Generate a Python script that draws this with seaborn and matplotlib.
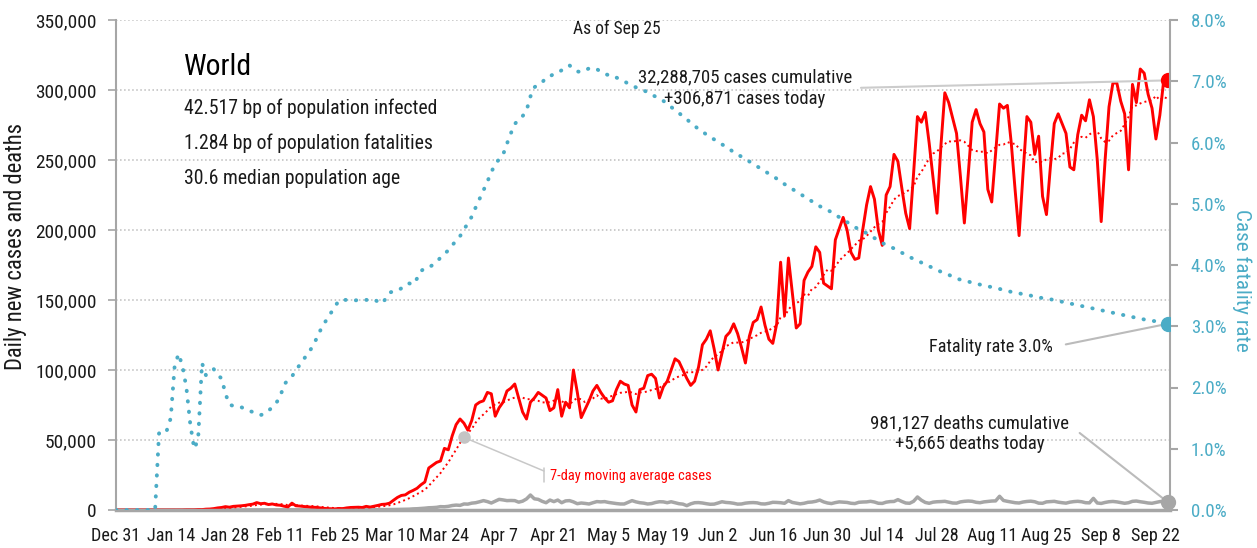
import matplotlib
matplotlib.use('Agg')
import matplotlib.pyplot as plt
from matplotlib import font_manager
import seaborn as sns
import numpy as np
import pandas as pd

# daily new cases (thousands), Dec 31 .. Sep 25
cases_k = [
    0, 0, 0, 0, 0, 0, 0, 0, 0, 0,
    0, 0, 0, 0, 0, 0, 0, 0, 0.1, 0.1,
    0.1, 0.3, 0.3, 0.6, 0.7, 1.0, 1.5, 1.8, 2.4, 2.0,
    2.6, 2.8, 3.0, 3.3, 3.8, 4.2, 5.3, 4.5, 4.8, 3.9,
    4.3, 3.6, 3.4, 2.7, 2.2, 4.9, 3.0, 2.8, 2.5, 2.3,
    2.0, 1.9, 1.6, 1.2, 1.0, 0.9, 0.8, 1.1, 1.0, 1.5,
    1.8, 1.9, 2.0, 1.8, 2.6, 2.1, 2.7, 3.3, 4.0, 4.2,
    4.9, 7.0, 9.0, 10.4, 10.8, 12.7, 14.0, 15.5, 18.0, 20.0,
    30, 32, 34, 35, 44, 43, 53, 61, 65, 62,
    57, 64, 75, 77, 78, 84, 83, 67, 73, 77,
    85, 87, 90, 80, 70, 65, 77, 80, 84, 82,
    80, 71, 73, 86, 67, 77, 73, 100, 84, 66,
    72, 78, 85, 89, 84, 80, 77, 78, 86, 92,
    90, 89, 75, 70, 86, 87, 96, 97, 94, 80,
    88, 92, 100, 108, 106, 100, 94, 89, 92, 102,
    118, 122, 128, 115, 100, 112, 124, 127, 133, 126,
    116, 105, 124, 134, 136, 145, 132, 122, 119, 133,
    177, 139, 180, 155, 130, 133, 164, 170, 174, 188,
    184, 162, 160, 158, 193, 201, 209, 200, 184, 179,
    180, 200, 218, 231, 222, 200, 189, 225, 231, 254,
    249, 230, 212, 201, 240, 281, 277, 284, 262, 237,
    212, 260, 298, 291, 280, 269, 238, 205, 240, 277,
    286, 276, 270, 229, 220, 255, 290, 287, 289, 262,
    228, 196, 240, 281, 277, 254, 267, 224, 211, 245,
    276, 283, 276, 269, 245, 243, 268, 282, 278, 293,
    281, 250, 206, 250, 288, 305, 305, 292, 283, 243,
    304, 291, 315, 312, 297, 287, 265, 282, 307, 306.871,
]

# daily deaths (thousands)
deaths_k = [
    0, 0, 0, 0, 0, 0, 0, 0, 0, 0,
    0, 0, 0, 0, 0, 0, 0, 0, 0, 0,
    0.01, 0.01, 0.01, 0.02, 0.02, 0.02, 0.02, 0.03, 0.03, 0.03,
    0.04, 0.04, 0.05, 0.06, 0.06, 0.07, 0.07, 0.08, 0.09, 0.09,
    0.1, 0.1, 0.1, 0.1, 0.15, 0.14, 0.14, 0.15, 0.1, 0.1,
    0.1, 0.1, 0.1, 0.1, 0.1, 0.08, 0.07, 0.06, 0.06, 0.07,
    0.08, 0.1, 0.1, 0.1, 0.1, 0.15, 0.2, 0.2, 0.25, 0.3,
    0.3, 0.35, 0.4, 0.4, 0.5, 0.6, 0.8, 0.9, 1.1, 1.3,
    1.6, 1.7, 1.9, 2.4, 2.3, 2.6, 3.2, 3.5, 3.3, 4.3,
    4.2, 4.9, 5.2, 5.9, 6.7, 6.0, 5.0, 6.3, 7.6, 7.2,
    6.7, 6.8, 6.7, 5.6, 6.3, 7.9, 10.7, 8.0, 7.6, 6.2,
    5.2, 7.1, 6.0, 7.1, 5.2, 6.5, 6.7, 5.8, 4.5, 5.0,
    4.7, 4.3, 5.2, 6.0, 5.8, 6.0, 5.4, 5.0, 4.6, 4.3,
    4.3, 5.5, 6.7, 5.8, 5.2, 4.9, 4.3, 4.6, 5.4, 5.9,
    5.8, 5.2, 5.9, 5.2, 4.5, 4.2, 3.1, 4.4, 5.2, 5.3,
    5.0, 4.5, 4.1, 4.2, 5.0, 5.9, 5.4, 5.2, 4.8, 4.2,
    4.3, 4.9, 5.2, 5.3, 5.1, 4.4, 4.3, 4.8, 5.5, 5.4,
    5.2, 4.8, 6.7, 5.4, 4.9, 4.4, 4.8, 5.5, 5.7, 6.2,
    7.1, 5.8, 5.0, 4.6, 5.3, 5.8, 5.6, 5.4, 4.8, 4.6,
    5.5, 5.7, 5.8, 6.2, 5.7, 4.8, 4.7, 5.6, 6.0, 6.1,
    7.4, 6.1, 5.0, 4.8, 6.2, 9.3, 7.0, 5.4, 4.8, 5.6,
    5.9, 6.0, 6.2, 5.6, 5.0, 4.9, 5.8, 6.2, 6.4, 6.2,
    5.5, 5.2, 5.8, 6.1, 6.4, 6.5, 9.8, 6.8, 6.2, 5.7,
    5.2, 5.0, 5.7, 6.1, 6.3, 5.9, 4.9, 4.8, 5.8, 6.0,
    6.2, 5.6, 5.2, 4.9, 5.6, 6.0, 6.2, 5.9, 5.2, 5.1,
    8.3, 5.0, 4.7, 5.4, 5.9, 6.1, 5.8, 5.3, 4.8, 5.2,
    6.2, 6.4, 5.9, 5.5, 5.0, 4.8, 5.4, 6.0, 6.2, 5.665,
]

# case fatality rate (%)
cfr_pct = [
    0, 0, 0, 0, 0, 0, 0, 0, 0, 0,
    0, 1.25, 1.32, 1.30, 1.50, 2.35, 2.55, 2.35, 2.00, 1.40,
    1.00, 1.15, 2.40, 2.20, 2.25, 2.30, 2.20, 2.15, 1.90, 1.72,
    1.70, 1.70, 1.68, 1.65, 1.62, 1.60, 1.58, 1.55, 1.57, 1.62,
    1.68, 1.75, 1.85, 2.05, 2.12, 2.18, 2.28, 2.37, 2.46, 2.55,
    2.64, 2.76, 2.90, 3.02, 3.12, 3.22, 3.32, 3.42, 3.43, 3.43,
    3.43, 3.42, 3.43, 3.43, 3.43, 3.43, 3.44, 3.40, 3.37, 3.45,
    3.55, 3.57, 3.58, 3.62, 3.68, 3.70, 3.68, 3.78, 3.90, 3.95,
    3.96, 4.00, 4.05, 4.12, 4.18, 4.24, 4.32, 4.40, 4.47, 4.58,
    4.68, 4.79, 4.94, 5.08, 5.22, 5.36, 5.52, 5.64, 5.73, 5.80,
    5.98, 6.15, 6.30, 6.38, 6.43, 6.52, 6.75, 6.90, 6.95, 6.98,
    7.06, 7.08, 7.12, 7.14, 7.18, 7.23, 7.26, 7.20, 7.16, 7.15,
    7.18, 7.21, 7.22, 7.20, 7.15, 7.12, 7.10, 7.10, 7.06, 7.03,
    7.00, 6.96, 6.93, 6.90, 6.88, 6.85, 6.82, 6.78, 6.75, 6.72,
    6.68, 6.63, 6.58, 6.53, 6.48, 6.43, 6.38, 6.32, 6.27, 6.22,
    6.18, 6.13, 6.09, 6.05, 6.01, 5.97, 5.93, 5.89, 5.84, 5.80,
    5.77, 5.73, 5.69, 5.65, 5.61, 5.57, 5.53, 5.49, 5.45, 5.41,
    5.36, 5.32, 5.28, 5.24, 5.20, 5.16, 5.12, 5.08, 5.04, 5.00,
    4.96, 4.93, 4.90, 4.86, 4.82, 4.78, 4.74, 4.70, 4.66, 4.62,
    4.58, 4.55, 4.52, 4.48, 4.44, 4.40, 4.36, 4.33, 4.30, 4.27,
    4.24, 4.20, 4.17, 4.13, 4.10, 4.07, 4.04, 4.01, 3.98, 3.95,
    3.92, 3.89, 3.87, 3.84, 3.81, 3.78, 3.76, 3.74, 3.73, 3.71,
    3.70, 3.68, 3.67, 3.65, 3.64, 3.62, 3.61, 3.59, 3.58, 3.56,
    3.55, 3.54, 3.52, 3.51, 3.50, 3.48, 3.47, 3.46, 3.45, 3.44,
    3.43, 3.41, 3.40, 3.38, 3.37, 3.36, 3.34, 3.33, 3.32, 3.30,
    3.29, 3.28, 3.26, 3.25, 3.23, 3.22, 3.21, 3.19, 3.18, 3.17,
    3.15, 3.14, 3.13, 3.11, 3.10, 3.09, 3.08, 3.06, 3.05, 3.04,
]

tick_labels = ['Dec 31', 'Jan 14', 'Jan 28', 'Feb 11', 'Feb 25', 'Mar 10',
               'Mar 24', 'Apr 7', 'Apr 21', 'May 5', 'May 19', 'Jun 2',
               'Jun 16', 'Jun 30', 'Jul 14', 'Jul 28', 'Aug 11', 'Aug 25',
               'Sep 8', 'Sep 22']

info_lines = ['42.517 bp of population infected',
              '1.284 bp of population fatalities',
              '30.6 median population age']

RED = '#ff0000'
TEAL = '#4bacc6'
GREY = '#a6a6a6'
TXT = '#1a1a1a'

sns.set_style('white')

# the original uses a condensed face; take the narrowest one available
installed = {f.name for f in font_manager.fontManager.ttflist}
if 'Roboto Condensed' in installed:
    family, k = 'Roboto Condensed', 0.93
elif 'Liberation Sans Narrow' in installed:
    family, k = 'Liberation Sans Narrow', 1.0
elif 'Roboto' in installed:
    family, k = 'Roboto', 0.83
else:
    family, k = 'Liberation Sans', 0.82
plt.rcParams['font.family'] = [family, 'DejaVu Sans']

df = pd.DataFrame({
    'day': np.arange(len(cases_k)),
    'cases': np.array(cases_k) * 1000,
    'deaths': np.array(deaths_k) * 1000,
    'cfr': cfr_pct,
})
df['ma7'] = df['cases'].rolling(7, min_periods=1).mean()

W, H = 1257, 548
L, R, T, B = 116, 1170, 20, 510
fig = plt.figure(figsize=(W / 100, H / 100), dpi=100)
ax = fig.add_axes([L / W, (H - B) / H, (R - L) / W, (B - T) / H])
ax2 = ax.twinx()


def pos(x, y):
    # pixel position -> axes fraction
    return ((x - L) / (R - L), (B - y) / (B - T))


ax.yaxis.grid(True, linestyle=':', color='#bdbdbd', lw=1.1)
ax.set_axisbelow(True)

sns.lineplot(data=df, x='day', y='deaths', ax=ax, color=GREY, lw=2.5)
sns.lineplot(data=df, x='day', y='ma7', ax=ax, color=RED, lw=1.4, linestyle=':')
sns.lineplot(data=df, x='day', y='cases', ax=ax, color=RED, lw=2.1)
sns.lineplot(data=df, x='day', y='cfr', ax=ax2, color=TEAL, lw=2.8,
             linestyle=(0, (0.1, 2.6)), dash_capstyle='round')

last = df.iloc[-1]
ax.plot(last['day'], last['cases'], 'o', color=RED, ms=10, zorder=6)
ax.plot(last['day'], last['deaths'], 'o', color=GREY, ms=10, zorder=6, clip_on=False)
ax2.plot(last['day'], last['cfr'], 'o', color=TEAL, ms=10, zorder=6)
ma_day = 89
ax.plot(ma_day, df['ma7'].iloc[ma_day], 'o', color='#c4c4c4', ms=8, zorder=6)

ax.set_xlim(0, 269.6)
ax.set_ylim(0, 350000)
ax2.set_ylim(0, 8)

ax.set_xticks(np.arange(len(tick_labels)) * 14)
ax.set_xticklabels(tick_labels)
ax.set_yticks(np.arange(0, 350001, 50000))
ax.set_yticklabels([f'{v:,}' for v in range(0, 350001, 50000)])
ax2.set_yticks(np.arange(0, 9))
ax2.set_yticklabels([f'{v:.1f}%' for v in range(0, 9)])

ax.tick_params(axis='x', length=8, width=1.5, color=GREY, pad=4, labelsize=14 * k, labelcolor=TXT)
ax.tick_params(axis='y', length=6, width=1.2, color=GREY, pad=8, labelsize=15 * k, labelcolor=TXT)
ax2.tick_params(axis='y', length=6, width=1.5, color=GREY, pad=9, labelsize=14.6 * k, labelcolor=TEAL)

for s in ['top', 'right']:
    ax.spines[s].set_visible(False)
for s in ['top', 'left', 'bottom']:
    ax2.spines[s].set_visible(False)
ax.spines['left'].set_color(GREY)
ax.spines['left'].set_linewidth(1.5)
ax.spines['bottom'].set_color(GREY)
ax.spines['bottom'].set_linewidth(2.5)
ax2.spines['right'].set_color(GREY)
ax2.spines['right'].set_linewidth(1.5)

ax.set_xlabel('')
ax.set_ylabel('Daily new cases and deaths', fontsize=17.5 * k, color=TXT)
ax.yaxis.set_label_coords(pos(27, 0)[0], pos(0, 246)[1])
ax2.set_ylabel('Case fatality rate', fontsize=16.5 * k, color=TEAL, rotation=270, va='bottom')
ax2.yaxis.set_label_coords(pos(1232, 0)[0], pos(0, 280)[1])

ax.text(*pos(617, 29), 'As of Sep 25', transform=ax.transAxes, ha='center', va='center',
        fontsize=13.6 * k, color=TXT)
ax.text(*pos(184, 67), 'World', transform=ax.transAxes, ha='left', va='center',
        fontsize=23 * k, color='black')
for i, line in enumerate(info_lines):
    ax.text(*pos(184, 108 + 35 * i), line, transform=ax.transAxes, ha='left', va='center',
            fontsize=15.3 * k, color=TXT)

ax.annotate('32,288,705 cases cumulative\n+306,871 cases today',
            xy=(last['day'], last['cases']), xytext=pos(745, 88), textcoords='axes fraction',
            ha='center', va='center', fontsize=14.5 * k, color=TXT, linespacing=1.25,
            arrowprops=dict(arrowstyle='-', color='#cccccc', lw=1.5, relpos=(1, 0.5),
                            shrinkA=4, shrinkB=0))

ax.annotate('981,127 deaths cumulative\n+5,665 deaths today',
            xy=(last['day'], last['deaths']), xytext=pos(970, 434), textcoords='axes fraction',
            ha='center', va='center', fontsize=14.5 * k, color=TXT, linespacing=1.2,
            arrowprops=dict(arrowstyle='-', color='#bbbbbb', lw=1.5, relpos=(1, 0.55),
                            shrinkA=5, shrinkB=0,
                            connectionstyle='arc,angleA=0,armA=9,angleB=0,armB=0,rad=0'))

ax2.annotate('Fatality rate 3.0%', xy=(last['day'], last['cfr']), xytext=pos(1053, 347),
             textcoords='axes fraction', ha='right', va='center', fontsize=14.1 * k, color=TXT,
             arrowprops=dict(arrowstyle='-', color='#bbbbbb', lw=1.5, relpos=(1, 0.5),
                             shrinkA=7, shrinkB=0))

ax.annotate('', xy=(ma_day, df['ma7'].iloc[ma_day]), xytext=pos(544, 471),
            textcoords='axes fraction',
            arrowprops=dict(arrowstyle='-', color='#c8c8c8', lw=1.1, shrinkA=0, shrinkB=0))
bx, by0 = pos(544, 482)
_, by1 = pos(544, 468)
ax.plot([bx, bx], [by0, by1], transform=ax.transAxes, color='#c8c8c8', lw=1.1)
ax.text(*pos(550, 476), '7-day moving average cases', transform=ax.transAxes,
        ha='left', va='center', fontsize=11.2 * k, color=RED)

fig.savefig('out.png', dpi=100)
